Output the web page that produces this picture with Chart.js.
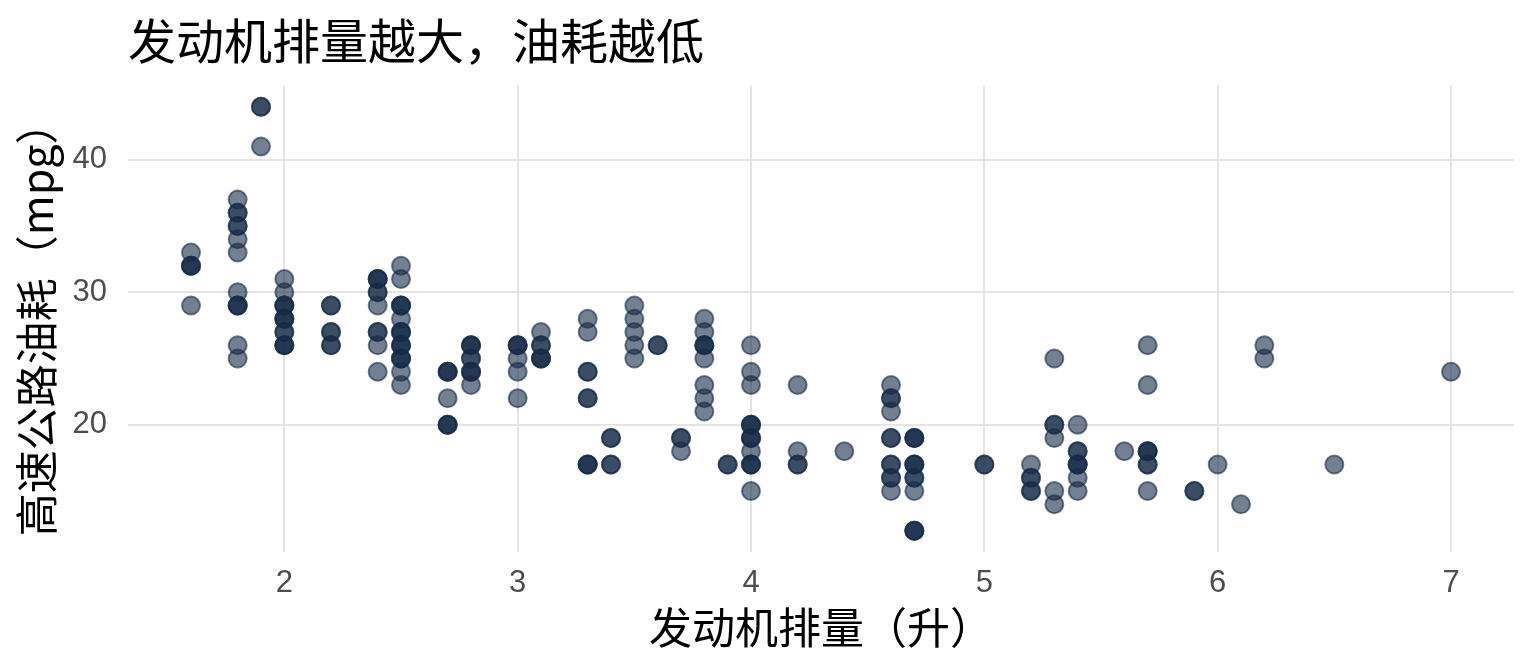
<!DOCTYPE html>
<html lang="zh">
<head>
<meta charset="utf-8">
<title>发动机排量越大，油耗越低</title>
<script src="https://cdn.jsdelivr.net/npm/chart.js@4/dist/chart.umd.min.js"></script>
<style>
    html, body { margin: 0; padding: 0; background: #ffffff; }
    #wrap { width: 1536px; height: 672px; position: relative; }
</style>
</head>
<body>
<div id="wrap"><canvas id="mpg-chart"></canvas></div>
<script>
    'use strict';

    /**
     * Data: one entry per spot,
     * carCount = how many cars sit on that spot (darker dots)
     */
    const displ = [
        1.6, 1.6, 1.6,
        1.8, 1.8, 1.8, 1.8, 1.8, 1.8, 1.8, 1.8, 1.8,
        1.9, 1.9,
        2.0, 2.0, 2.0, 2.0, 2.0, 2.0,
        2.2, 2.2, 2.2,
        2.4, 2.4, 2.4, 2.4, 2.4, 2.4,
        2.5, 2.5, 2.5, 2.5, 2.5, 2.5, 2.5, 2.5, 2.5,
        2.7, 2.7, 2.7,
        2.8, 2.8, 2.8, 2.8,
        3.0, 3.0, 3.0, 3.0,
        3.1, 3.1, 3.1,
        3.3, 3.3, 3.3, 3.3, 3.3,
        3.4, 3.4,
        3.5, 3.5, 3.5, 3.5, 3.5,
        3.6,
        3.7, 3.7,
        3.8, 3.8, 3.8, 3.8, 3.8, 3.8, 3.8,
        3.9,
        4.0, 4.0, 4.0, 4.0, 4.0, 4.0, 4.0, 4.0,
        4.2, 4.2, 4.2,
        4.4,
        4.6, 4.6, 4.6, 4.6, 4.6, 4.6, 4.6,
        4.7, 4.7, 4.7, 4.7, 4.7,
        5.0,
        5.2, 5.2, 5.2,
        5.3, 5.3, 5.3, 5.3, 5.3,
        5.4, 5.4, 5.4, 5.4, 5.4,
        5.6,
        5.7, 5.7, 5.7, 5.7, 5.7,
        5.9,
        6.0,
        6.1,
        6.2, 6.2,
        6.5,
        7.0
    ];

    const hwy = [
        33, 32, 29,
        37, 36, 35, 34, 33, 30, 29, 26, 25,
        44, 41,
        31, 30, 29, 28, 27, 26,
        29, 27, 26,
        31, 30, 29, 27, 26, 24,
        32, 31, 29, 28, 27, 26, 25, 24, 23,
        24, 22, 20,
        26, 25, 24, 23,
        26, 25, 24, 22,
        27, 26, 25,
        28, 27, 24, 22, 17,
        19, 17,
        29, 28, 27, 26, 25,
        26,
        19, 18,
        28, 27, 26, 25, 23, 22, 21,
        17,
        26, 24, 23, 20, 19, 18, 17, 15,
        23, 18, 17,
        18,
        23, 22, 21, 19, 17, 16, 15,
        19, 17, 16, 15, 12,
        17,
        17, 16, 15,
        25, 20, 19, 15, 14,
        20, 18, 17, 16, 15,
        18,
        26, 23, 18, 17, 15,
        15,
        17,
        14,
        26, 25,
        17,
        24
    ];

    const carCount = [
        1, 3, 1,
        1, 2, 2, 1, 1, 1, 3, 1, 1,
        2, 1,
        1, 1, 3, 3, 2, 3,
        2, 2, 2,
        3, 2, 1, 2, 1, 1,
        1, 1, 3, 1, 3, 3, 3, 1, 1,
        3, 1, 3,
        3, 2, 3, 1,
        3, 1, 1, 1,
        1, 2, 3,
        1, 1, 2, 2, 3,
        2, 2,
        1, 1, 1, 1, 1,
        2,
        2, 1,
        1, 1, 3, 1, 1, 1, 1,
        2,
        1, 1, 1, 3, 3, 1, 3, 1,
        1, 1, 2,
        1,
        1, 2, 1, 2, 2, 2, 1,
        3, 3, 2, 1, 3,
        2,
        1, 2, 2,
        1, 2, 1, 1, 1,
        1, 2, 3, 1, 1,
        1,
        1, 1, 3, 2, 1,
        2,
        1,
        1,
        1, 1,
        1,
        1
    ];

    const xTicks = [2, 3, 4, 5, 6, 7];
    const yTicks = [20, 30, 40];

    const titleText = '发动机排量越大，油耗越低';
    const xTitle = '发动机排量（升）';
    const yTitle = '高速公路油耗（mpg）';

    /**
     * Expand spots into single cars so overlaps darken like the original
     */
    const points = [];
    displ.forEach(function(d, i) {
        for (let k = 0; k < carCount[i]; k++) {
            points.push({ x: d, y: hwy[i] });
        }
    });

    const dotColor = 'rgba(22, 43, 72, 0.6)';
    const gridColor = '#E4E4E4';
    const cjkFont = '"Noto Sans CJK SC", "Noto Sans", sans-serif';
    const axisFont = '"Noto Sans CJK TC", "Noto Sans CJK SC", sans-serif';
    const tickFont = '"Liberation Sans", Arial, sans-serif';

    new Chart(document.getElementById('mpg-chart'), {
        type: 'scatter',
        data: {
            datasets: [{
                data: points,
                backgroundColor: dotColor,
                borderColor: dotColor,
                borderWidth: 2,
                pointRadius: 9,
                pointHoverRadius: 9
            }]
        },
        options: {
            responsive: true,
            maintainAspectRatio: false,
            animation: false,
            events: [],
            layout: {
                padding: { left: 0, right: 22, top: 0, bottom: 0 }
            },
            plugins: {
                legend: { display: false },
                tooltip: { enabled: false },
                title: {
                    display: true,
                    text: titleText,
                    align: 'start',
                    fullSize: false,
                    color: '#000000',
                    font: { family: cjkFont, size: 48, weight: 'normal' },
                    padding: { top: 12, bottom: 16 }
                }
            },
            scales: {
                x: {
                    type: 'linear',
                    min: 1.33,
                    max: 7.27,
                    border: { display: false },
                    grid: { color: gridColor, lineWidth: 2, drawTicks: false },
                    ticks: {
                        padding: 13,
                        color: '#4D4D4D',
                        font: { family: tickFont, size: 31 }
                    },
                    afterBuildTicks: function(scale) {
                        scale.ticks = xTicks.map(function(v) { return { value: v }; });
                    },
                    afterFit: function(scale) {
                        scale.height = 120;
                    },
                    title: {
                        display: true,
                        text: xTitle,
                        color: '#000000',
                        font: { family: axisFont, size: 43 },
                        padding: { top: 0, bottom: 19 }
                    }
                },
                y: {
                    type: 'linear',
                    min: 10.4,
                    max: 45.6,
                    border: { display: false },
                    grid: { color: gridColor, lineWidth: 2, drawTicks: false },
                    ticks: {
                        padding: 21,
                        color: '#4D4D4D',
                        font: { family: tickFont, size: 31 }
                    },
                    afterBuildTicks: function(scale) {
                        scale.ticks = yTicks.map(function(v) { return { value: v }; });
                    },
                    afterFit: function(scale) {
                        scale.width = 128;
                    },
                    title: {
                        display: true,
                        text: yTitle,
                        color: '#000000',
                        font: { family: axisFont, size: 43 },
                        padding: { top: 11, bottom: 0 }
                    }
                }
            }
        }
    });
</script>
</body>
</html>
